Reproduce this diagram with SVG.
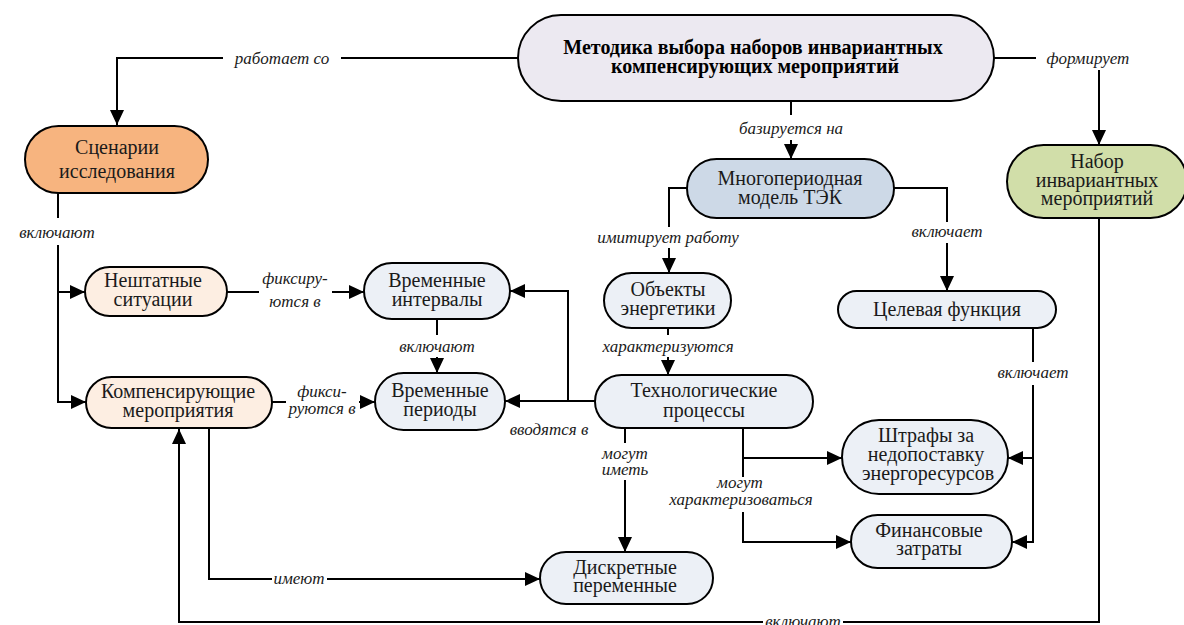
<svg xmlns="http://www.w3.org/2000/svg" width="1184" height="625" viewBox="0 0 1184 625">
<defs>
<marker id="arr" markerUnits="userSpaceOnUse" markerWidth="16" markerHeight="16" refX="15" refY="8" orient="auto" viewBox="0 0 16 16">
<path d="M0,1 L15,8 L0,15 z" fill="#000"/>
</marker>
<style>
svg text{font-family:'Liberation Serif','Times New Roman',serif !important}
.n{stroke:#000;stroke-width:2}
.c{fill:none;stroke:#000;stroke-width:2}
.a{marker-end:url(#arr)}
.lav{fill:#ece9f1}.org{fill:#f7b47f}.pch{fill:#fdeee2}.blu{fill:#cdd9e7}.lgt{fill:#ecf0f6}.grn{fill:#d1dea9}
</style>
</defs>
<rect width="1184" height="625" fill="#fff"/>
<g id="connectors">
<path class="c" d="M518,58 H341"/>
<path class="c a" d="M223,58 H117 V125"/>
<path class="c" d="M791,101 V115"/>
<path class="c a" d="M791,140 V159"/>
<path class="c" d="M994,58 H1036"/>
<path class="c a" d="M1099,70 V145"/>
<path class="c" d="M58,193 V218"/>
<path class="c a" d="M58,245 V402 H86"/>
<path class="c a" d="M58,292 H85"/>
<path class="c" d="M227,292 H259"/>
<path class="c a" d="M332,292 H364"/>
<path class="c" d="M272,402 H286"/>
<path class="c a" d="M359,402 H375"/>
<path class="c" d="M437,319 V335"/>
<path class="c a" d="M437,357 V373"/>
<path class="c" d="M687,188 H669 V227"/>
<path class="c a" d="M669,248 V273"/>
<path class="c" d="M894,188 H947 V222"/>
<path class="c a" d="M947,243 V291"/>
<path class="c" d="M668,328 V335"/>
<path class="c a" d="M668,357 V375"/>
<path class="c a" d="M595,401 H505"/>
<path class="c a" d="M568,401 V291 H510"/>
<path class="c" d="M625,428 V443"/>
<path class="c a" d="M625,480 V552"/>
<path class="c" d="M743,428 V477"/>
<path class="c a" d="M743,512 V542 H851"/>
<path class="c a" d="M743,458 H842"/>
<path class="c" d="M1033,328 V362"/>
<path class="c a" d="M1033,385 V542 H1012"/>
<path class="c a" d="M1033,458 H1008"/>
<path class="c" d="M209,428 V579 H272"/>
<path class="c a" d="M327,579 H540"/>
<path class="c" d="M1099,218 V622 H843"/>
<path class="c a" d="M763,622 H179 V429"/>
<g fill="#1a1a1a" text-anchor="middle">
<text style="font-family:'Liberation Serif',serif !important;font-size:17px;font-style:italic" x="282" y="64">работает со</text>
<text style="font-family:'Liberation Serif',serif !important;font-size:17px;font-style:italic" x="791" y="134">базируется на</text>
<text style="font-family:'Liberation Serif',serif !important;font-size:17px;font-style:italic" x="1088" y="64">формирует</text>
<text style="font-family:'Liberation Serif',serif !important;font-size:17px;font-style:italic" x="57" y="238">включают</text>
<text style="font-family:'Liberation Serif',serif !important;font-size:17px;font-style:italic" x="295" y="284">фиксиру-</text>
<text style="font-family:'Liberation Serif',serif !important;font-size:17px;font-style:italic" x="295" y="307">ются в</text>
<text style="font-family:'Liberation Serif',serif !important;font-size:17px;font-style:italic" x="322" y="397">фикси-</text>
<text style="font-family:'Liberation Serif',serif !important;font-size:17px;font-style:italic" x="322" y="414">руются в</text>
<text style="font-family:'Liberation Serif',serif !important;font-size:17px;font-style:italic" x="437" y="352">включают</text>
<text style="font-family:'Liberation Serif',serif !important;font-size:17px;font-style:italic" x="668" y="243">имитирует работу</text>
<text style="font-family:'Liberation Serif',serif !important;font-size:17px;font-style:italic" x="947" y="237">включает</text>
<text style="font-family:'Liberation Serif',serif !important;font-size:17px;font-style:italic" x="668" y="352">характеризуются</text>
<text style="font-family:'Liberation Serif',serif !important;font-size:17px;font-style:italic" x="549" y="435">вводятся в</text>
<text style="font-family:'Liberation Serif',serif !important;font-size:17px;font-style:italic" x="625" y="459">могут</text>
<text style="font-family:'Liberation Serif',serif !important;font-size:17px;font-style:italic" x="625" y="475">иметь</text>
<text style="font-family:'Liberation Serif',serif !important;font-size:17px;font-style:italic" x="740" y="488">могут</text>
<text style="font-family:'Liberation Serif',serif !important;font-size:17px;font-style:italic" x="741" y="505">характеризоваться</text>
<text style="font-family:'Liberation Serif',serif !important;font-size:17px;font-style:italic" x="1033" y="378">включает</text>
<text style="font-family:'Liberation Serif',serif !important;font-size:17px;font-style:italic" x="299" y="584">имеют</text>
<text style="font-family:'Liberation Serif',serif !important;font-size:17px;font-style:italic" x="803" y="627">включают</text>
</g>
</g>
<g id="nodes" fill="#1a1a1a" text-anchor="middle">
<g id="n-metod"><rect class="n lav" x="518" y="15" width="476" height="86" rx="43"/><text style="font-family:'Liberation Serif',serif !important;font-size:20px;font-weight:bold" fill="#000" x="753" y="54">Методика выбора наборов инвариантных</text><text style="font-family:'Liberation Serif',serif !important;font-size:20px;font-weight:bold" fill="#000" x="755" y="73">компенсирующих мероприятий</text></g>
<g id="n-scen"><rect class="n org" x="25" y="126" width="183" height="67" rx="33.5"/><text style="font-family:'Liberation Serif',serif !important;font-size:20px" x="117" y="154">Сценарии</text><text style="font-family:'Liberation Serif',serif !important;font-size:20px" x="117" y="178">исследования</text></g>
<g id="n-nabor"><rect class="n grn" x="1007" y="145" width="180" height="73" rx="36.5"/><text style="font-family:'Liberation Serif',serif !important;font-size:20px" x="1097" y="168">Набор</text><text style="font-family:'Liberation Serif',serif !important;font-size:20px" x="1097" y="187">инвариантных</text><text style="font-family:'Liberation Serif',serif !important;font-size:20px" x="1097" y="205">мероприятий</text></g>
<g id="n-model"><rect class="n blu" x="687" y="159" width="207" height="59" rx="29.5"/><text style="font-family:'Liberation Serif',serif !important;font-size:20px" x="790" y="185">Многопериодная</text><text style="font-family:'Liberation Serif',serif !important;font-size:20px" x="790" y="204">модель ТЭК</text></g>
<g id="n-nesht"><rect class="n pch" x="85" y="267" width="142" height="49" rx="24.5"/><text style="font-family:'Liberation Serif',serif !important;font-size:20px" x="153" y="287">Нештатные</text><text style="font-family:'Liberation Serif',serif !important;font-size:20px" x="153" y="306">ситуации</text></g>
<g id="n-komp"><rect class="n pch" x="86" y="377" width="186" height="51" rx="25.5"/><text style="font-family:'Liberation Serif',serif !important;font-size:20px" x="178" y="398">Компенсирующие</text><text style="font-family:'Liberation Serif',serif !important;font-size:20px" x="178" y="417">мероприятия</text></g>
<g id="n-interv"><rect class="n lgt" x="364" y="263" width="146" height="56" rx="28"/><text style="font-family:'Liberation Serif',serif !important;font-size:20px" x="437" y="287">Временные</text><text style="font-family:'Liberation Serif',serif !important;font-size:20px" x="437" y="306">интервалы</text></g>
<g id="n-period"><rect class="n lgt" x="375" y="373" width="130" height="57" rx="28.5"/><text style="font-family:'Liberation Serif',serif !important;font-size:20px" x="440" y="397">Временные</text><text style="font-family:'Liberation Serif',serif !important;font-size:20px" x="440" y="416">периоды</text></g>
<g id="n-obj"><rect class="n lgt" x="604" y="273" width="127" height="55" rx="27.5"/><text style="font-family:'Liberation Serif',serif !important;font-size:20px" x="668" y="296">Объекты</text><text style="font-family:'Liberation Serif',serif !important;font-size:20px" x="668" y="315">энергетики</text></g>
<g id="n-tech"><rect class="n lgt" x="595" y="375" width="218" height="53" rx="26.5"/><text style="font-family:'Liberation Serif',serif !important;font-size:20px" x="704" y="397">Технологические</text><text style="font-family:'Liberation Serif',serif !important;font-size:20px" x="704" y="417">процессы</text></g>
<g id="n-cel"><rect class="n lgt" x="838" y="291" width="218" height="37" rx="18.5"/><text style="font-family:'Liberation Serif',serif !important;font-size:20px" x="947" y="316">Целевая функция</text></g>
<g id="n-shtraf"><rect class="n lgt" x="842" y="420" width="166" height="74" rx="37"/><text style="font-family:'Liberation Serif',serif !important;font-size:20px" x="926" y="442">Штрафы за</text><text style="font-family:'Liberation Serif',serif !important;font-size:20px" x="926" y="461">недопоставку</text><text style="font-family:'Liberation Serif',serif !important;font-size:20px" x="928" y="480">энергоресурсов</text></g>
<g id="n-fin"><rect class="n lgt" x="851" y="515" width="161" height="53" rx="26.5"/><text style="font-family:'Liberation Serif',serif !important;font-size:20px" x="929" y="537">Финансовые</text><text style="font-family:'Liberation Serif',serif !important;font-size:20px" x="929" y="555">затраты</text></g>
<g id="n-diskr"><rect class="n lgt" x="540" y="552" width="173" height="52" rx="26"/><text style="font-family:'Liberation Serif',serif !important;font-size:20px" x="625" y="574">Дискретные</text><text style="font-family:'Liberation Serif',serif !important;font-size:20px" x="625" y="592">переменные</text></g>
</g>
</svg>
